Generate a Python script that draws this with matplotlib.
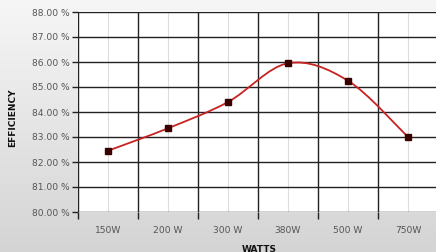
import numpy as np
import matplotlib
matplotlib.use("Agg")
import matplotlib.pyplot as plt
from matplotlib.path import Path
from matplotlib.patches import PathPatch
from matplotlib.colors import LinearSegmentedColormap

categories = ["150W", "200 W", "300 W", "380W", "500 W", "750W"]
efficiency = [82.45, 83.35, 84.40, 85.95, 85.25, 83.00]
y_ticks = [80, 81, 82, 83, 84, 85, 86, 87, 88]

W, H = 436, 252
fig = plt.figure(figsize=(W / 100, H / 100), dpi=100)

# background gradient (near-white top -> light gray bottom)
bg = fig.add_axes([0, 0, 1, 1], zorder=-10)
grad = np.linspace(0, 1, 256).reshape(-1, 1)
cmap = LinearSegmentedColormap.from_list("bg", ["#f6f6f6", "#d4d4d4"])
bg.imshow(grad, aspect="auto", cmap=cmap, extent=[0, 1, 0, 1])
bg.axis("off")

left, right = 78 / W, 438 / W
top, bottom = 1 - 12 / H, 1 - 212 / H
ax = fig.add_axes([left, bottom, right - left, top - bottom])
ax.set_facecolor("white")

x = np.arange(len(categories))
bounds = np.arange(-0.5, len(categories), 1.0)
ax.set_xlim(-0.5, len(categories) - 0.5)
ax.set_ylim(80, 88)

# grid: dark lines at each percent, dark lines between categories, light at centers
for yv in y_ticks:
    ax.axhline(yv, color="#222222", lw=1.0, zorder=1)
for b in bounds:
    ax.axvline(b, color="#222222", lw=1.0, zorder=1)
for c in x:
    ax.axvline(c, color="#dddddd", lw=0.8, zorder=0.5)

# smoothed line (Catmull-Rom style bezier through data points)
pts = np.column_stack([x, efficiency]).astype(float)
verts = [tuple(pts[0])]
codes = [Path.MOVETO]
n = len(pts)
for i in range(n - 1):
    p0 = pts[i - 1] if i > 0 else pts[i]
    p1 = pts[i]
    p2 = pts[i + 1]
    p3 = pts[i + 2] if i + 2 < n else pts[i + 1]
    c1 = p1 + (p2 - p0) / 6.0
    c2 = p2 - (p3 - p1) / 6.0
    verts += [tuple(c1), tuple(c2), tuple(p2)]
    codes += [Path.CURVE4] * 3
ax.add_patch(PathPatch(Path(verts, codes), facecolor="none",
                       edgecolor="#c82222", lw=1.3, zorder=3))
ax.plot(x, efficiency, linestyle="none", marker="s", ms=4.5,
        color="#3a0000", zorder=4)

ax.set_yticks(y_ticks)
ax.set_yticklabels([f"{v:.2f} %" for v in y_ticks])
ax.set_xticks(x)
ax.set_xticklabels(categories)
ax.set_xticks(bounds, minor=True)
ax.tick_params(axis="x", which="major", length=0, pad=10)
ax.tick_params(axis="x", which="minor", length=5, width=1.0, color="#222222")
ax.tick_params(axis="y", which="major", length=4, width=1.0, color="#222222", pad=2)
ax.tick_params(axis="both", which="major", labelsize=6.6, labelcolor="#555555")
for s in ax.spines.values():
    s.set_visible(False)

fig.text(13 / W, 1 - 118 / H, "EFFICIENCY", rotation=90, ha="center",
         va="center", fontsize=6.5, fontweight="bold", color="#111111")
fig.text(259 / W, 1 - 249 / H, "WATTS", ha="center", va="center",
         fontsize=6.5, fontweight="bold", color="#111111")

fig.savefig("out.png", dpi=100)
